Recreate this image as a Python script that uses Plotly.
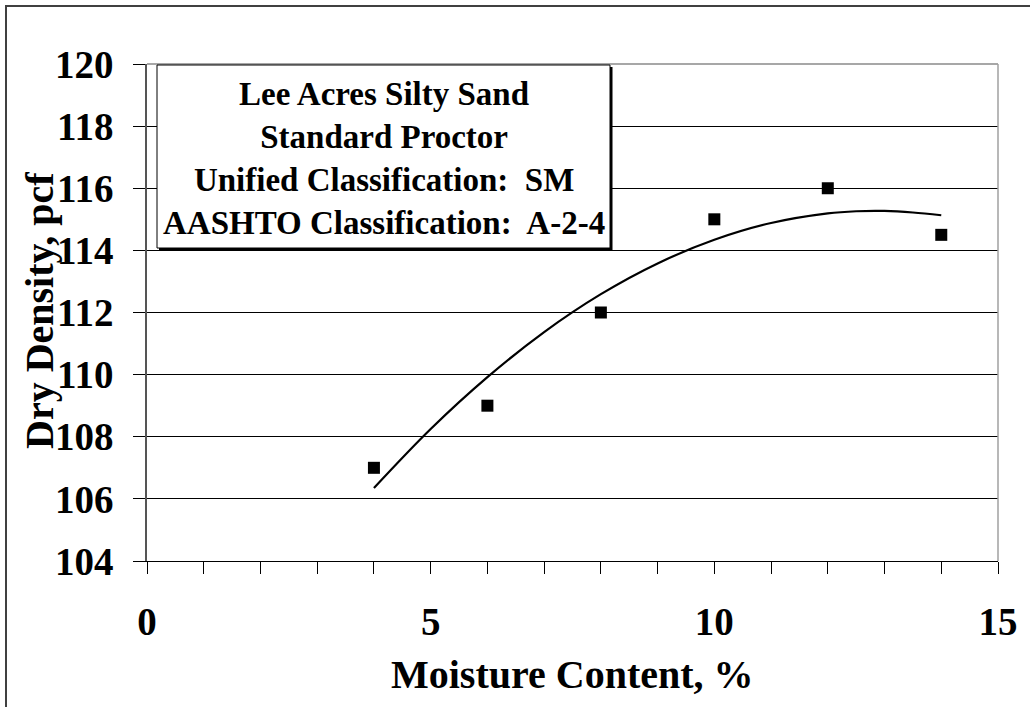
import plotly.graph_objects as go

# Data
moisture = [4, 6, 8, 10, 12, 14]
dry_density = [107.0, 109.0, 112.0, 115.0, 116.0, 114.5]

# Trend curve points
curve_x = [4, 5, 6, 7, 8, 9, 10, 11, 12, 12.5, 13, 13.5, 14]
curve_y = [106.35, 108.25, 109.92, 111.37, 112.59, 113.58, 114.34, 114.88, 115.19, 115.26, 115.27, 115.22, 115.13]

x_ticks = [0, 5, 10, 15]
y_ticks = [104, 106, 108, 110, 112, 114, 116, 118, 120]

legend_lines = ["Lee Acres Silty Sand", "Standard Proctor",
                "Unified Classification:  SM", "AASHTO Classification:  A-2-4"]

W, H = 1030, 707
L, R, T, B = 147, 32, 64, 146
PW, PH = W - L - R, H - T - B

def px(x):
    return (x - L) / PW

def py(y):
    return (H - B - y) / PH

FONT = "Liberation Serif, Times New Roman, serif"

fig = go.Figure()
fig.add_trace(go.Scatter(x=curve_x, y=curve_y, mode="lines",
                         line=dict(color="black", width=2.2, shape="spline"),
                         showlegend=False, hoverinfo="skip"))
fig.add_trace(go.Scatter(x=moisture, y=dry_density, mode="markers",
                         marker=dict(symbol="square", size=12, color="black"),
                         showlegend=False))

fig.update_layout(
    width=W, height=H,
    margin=dict(l=L, r=R, t=T, b=B),
    paper_bgcolor="white", plot_bgcolor="white",
    font=dict(family=FONT, color="black"),
    xaxis=dict(range=[0, 15], tickvals=x_ticks, ticks="outside", ticklen=12,
               tickcolor="black", tickwidth=1,
               minor=dict(dtick=1, ticks="outside", ticklen=12, tickcolor="black", showgrid=False),
               showgrid=False, zeroline=False, showline=True, linecolor="black", linewidth=1,
               tickfont=dict(family=FONT, size=39, weight="bold", color="black"),
               ticklabelstandoff=14),
    yaxis=dict(range=[104, 120], tickvals=y_ticks, ticks="outside", ticklen=12,
               tickcolor="black", tickwidth=1,
               showgrid=True, gridcolor="black", gridwidth=1,
               zeroline=False, showline=True, linecolor="#555555", linewidth=1.5,
               tickfont=dict(family=FONT, size=39, weight="bold", color="black"),
               ticklabelstandoff=12),
)

shapes = []
# plot area top and right borders (gray)
shapes.append(dict(type="line", xref="paper", yref="paper", x0=0, x1=1, y0=1, y1=1,
                   line=dict(color="#8a8a8a", width=1.5), layer="above"))
shapes.append(dict(type="line", xref="paper", yref="paper", x0=1, x1=1, y0=0, y1=1,
                   line=dict(color="#a0a0a0", width=1.5), layer="above"))
# legend box shadow and box
shapes.append(dict(type="rect", xref="paper", yref="paper",
                   x0=px(159), x1=px(612.5), y0=py(250.5), y1=py(67),
                   fillcolor="black", line=dict(width=0), layer="above"))
shapes.append(dict(type="rect", xref="paper", yref="paper",
                   x0=px(157), x1=px(610), y0=py(248), y1=py(65),
                   fillcolor="white", line=dict(color="black", width=1), layer="above"))
# outer chart border
shapes.append(dict(type="rect", xref="paper", yref="paper",
                   x0=px(6), x1=px(W + 20), y0=py(H + 20), y1=py(6),
                   line=dict(color="#404040", width=2), fillcolor="rgba(0,0,0,0)", layer="above"))
fig.update_layout(shapes=shapes)

annotations = [
    dict(text="<br>".join(legend_lines), xref="paper", yref="paper",
         x=px(383.5), y=py(158), xanchor="center", yanchor="middle", showarrow=False,
         align="center", font=dict(family=FONT, size=33, weight="bold", color="black")),
    dict(text="Moisture Content, %", xref="paper", yref="paper",
         x=px(572.5), y=py(674), xanchor="center", yanchor="middle", showarrow=False,
         font=dict(family=FONT, size=40, weight="bold", color="black")),
    dict(text="Dry Density, pcf", xref="paper", yref="paper", textangle=-90,
         x=px(39), y=py(311), xanchor="center", yanchor="middle", showarrow=False,
         font=dict(family=FONT, size=40, weight="bold", color="black")),
]
fig.update_layout(annotations=annotations)

fig.write_html("out.html")
